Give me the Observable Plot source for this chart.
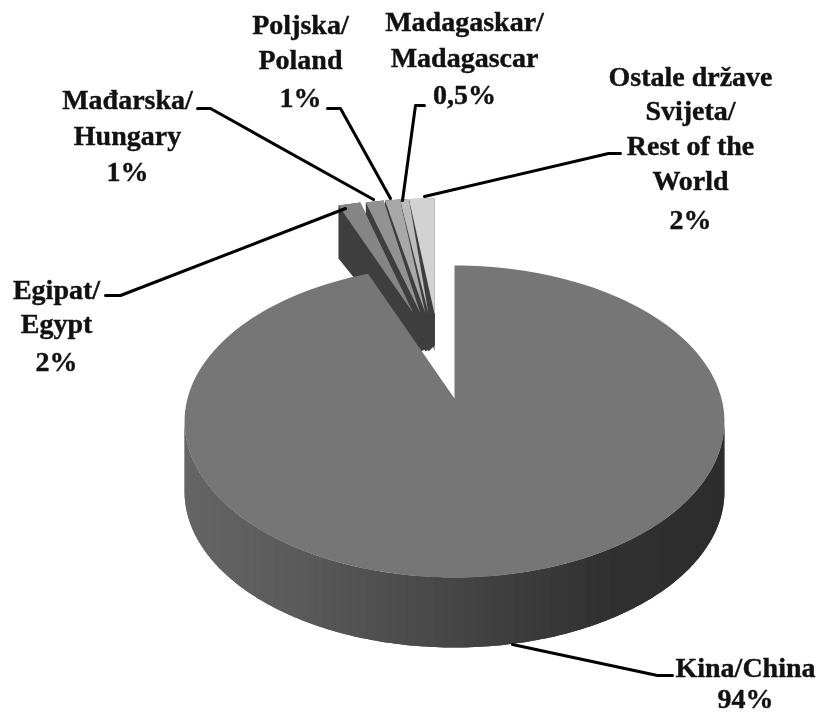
<!DOCTYPE html>
<html><head><meta charset="utf-8">
<script src="https://cdn.jsdelivr.net/npm/d3@7"></script>
<script src="https://cdn.jsdelivr.net/npm/@observablehq/plot@0.6"></script>
<style>html,body{margin:0;background:#fff}svg{display:block;filter:blur(.45px)}</style>
</head><body><div id="chart"></div>
<script>
// Data (slice shares as drawn, labels as printed)
const categories = ["Kina/China","Egipat/Egypt","Mađarska/Hungary","Poljska/Poland","Madagaskar/Madagascar","Ostale države Svijeta/Rest of the World"];
const shares = [94, 1.5, 1.2, 1.0, 0.6, 1.7];
const printed = ["94%","2%","1%","1%","0,5%","2%"];
const labelLines = [
  ["Kina/China","94%"],
  ["Egipat/","Egypt","2%"],
  ["Mađarska/","Hungary","1%"],
  ["Poljska/","Poland","1%"],
  ["Madagaskar/","Madagascar","0,5%"],
  ["Ostale države","Svijeta/","Rest of the","World","2%"]
];
const shadesTop = ["#767676","#858585","#929292","#a8a8a8","#bcbcbc","#d2d2d2"];

// Layout of the perspective disc
const k = 0.1475;
const big = {x0:454, y0:398, A:152.6, B:267, depth:70};
const small = {x0:434, y0:313, A:132, B:275, dOuter:53, dInner:38};
const rimNudge = [0,-7,-1.5,0,0,0];
const apexNudge = [0,-21,-14,-9,-6,0];
const labelPos = [
  [745,[668,699]],
  [56,[290,324,362]],
  [127,[100,136,172]],
  [300,[25,60,98]],
  [464,[22,58,95]],
  [690,[77,111,146,181,220]]
];
const leaders = [
  [[512,644],[657,675],[672,675]],
  [[105,295],[120,295],[345,208]],
  [[197,108],[210,108],[373,199]],
  [[327,108],[340,108],[390,198]],
  [[402,200],[415,105],[424,105]],
  [[424,196],[608,153],[620,153]]
];

const project = (p, deg) => {
  const t = deg * Math.PI / 180, u = Math.sin(t), v = Math.cos(t), s = 1 + k * v;
  return [p.x0 + p.B * u / s, p.y0 - p.A * v / s];
};

// Angles from the shares, clockwise from north, China first
const arcs = d3.pie().sort(null).startAngle(0).endAngle(2 * Math.PI)(shares)
  .map(a => ({start:a.startAngle * 180 / Math.PI, end:a.endAngle * 180 / Math.PI}));

const polys = [];
let pid = 0;
const addPoly = (pts, shade) => { pid++; pts.forEach(([x,y]) => polys.push({poly:pid, x, y, shade})); };
const arcPts = (p, a, b, n) => d3.range(n + 1).map(i => project(p, a + (b - a) * i / n));

// Small slices, right to left so each covers its neighbour's wall
for (let i = shares.length - 1; i >= 1; i--) {
  const p = {...small, x0: small.x0 + rimNudge[i]};
  const c = [small.x0 + apexNudge[i], small.y0];
  const top = arcPts(p, arcs[i].start, arcs[i].end, 6);
  const L = top[0], R = top[top.length - 1];
  addPoly([L,[L[0],L[1]+p.dOuter],[c[0],c[1]+p.dInner],[small.x0,c[1]+p.dInner-6],[small.x0,c[1]],c,R], "#3e3e3e");
  addPoly([c,...top], shadesTop[i]);
}

// China wall as overlapping shaded strips across the visible front
const wallShade = d3.scaleLinear().domain([185,300,420,600,725])
  .range(["#656565","#5a5a5a","#4a4a4a","#313131","#2c2c2c"]);
const thetaA = 90 + Math.asin(k) * 180 / Math.PI, thetaB = 270 - Math.asin(k) * 180 / Math.PI;
const strips = 90, step = (thetaB - thetaA) / strips;
for (let i = 0; i < strips; i++) {
  const a = thetaA + step * i, b = Math.min(thetaB, a + step * 2);
  const pts = arcPts(big, a, b, 4);
  addPoly([...pts, ...pts.slice().reverse().map(([x,y]) => [x, y + big.depth])], wallShade(project(big, a + step / 2)[0]));
}
// China top
addPoly([[big.x0,big.y0],...arcPts(big, arcs[0].start, arcs[0].end, 180)], shadesTop[0]);

const leaderRows = leaders.flatMap((pts,i) => pts.map(([x,y]) => ({i,x,y})));
const textRows = labelLines.flatMap((lines,i) => lines.map((line,j) => ({line, x:labelPos[i][0], y:labelPos[i][1][j]})));

const chart = Plot.plot({
  width:817, height:713, margin:0,
  x:{domain:[0,817], range:[0,817], axis:null},
  y:{domain:[0,713], range:[0,713], axis:null},
  color:{type:"identity"},
  marks:[
    Plot.line(polys,{x:"x", y:"y", z:"poly", fill:"shade", stroke:"none", curve:"linear-closed"}),
    Plot.line(leaderRows,{x:"x", y:"y", z:"i", stroke:"#000", strokeWidth:3, curve:"linear"}),
    Plot.text(textRows,{x:"x", y:"y", text:"line", fontFamily:"Liberation Serif", fontWeight:"bold", fontSize:28, fill:"#111", stroke:"#111", strokeWidth:0.4, textAnchor:"middle"})
  ]
});
chart.style.background = "#fff";
document.getElementById("chart").append(chart);
</script>
</body></html>
